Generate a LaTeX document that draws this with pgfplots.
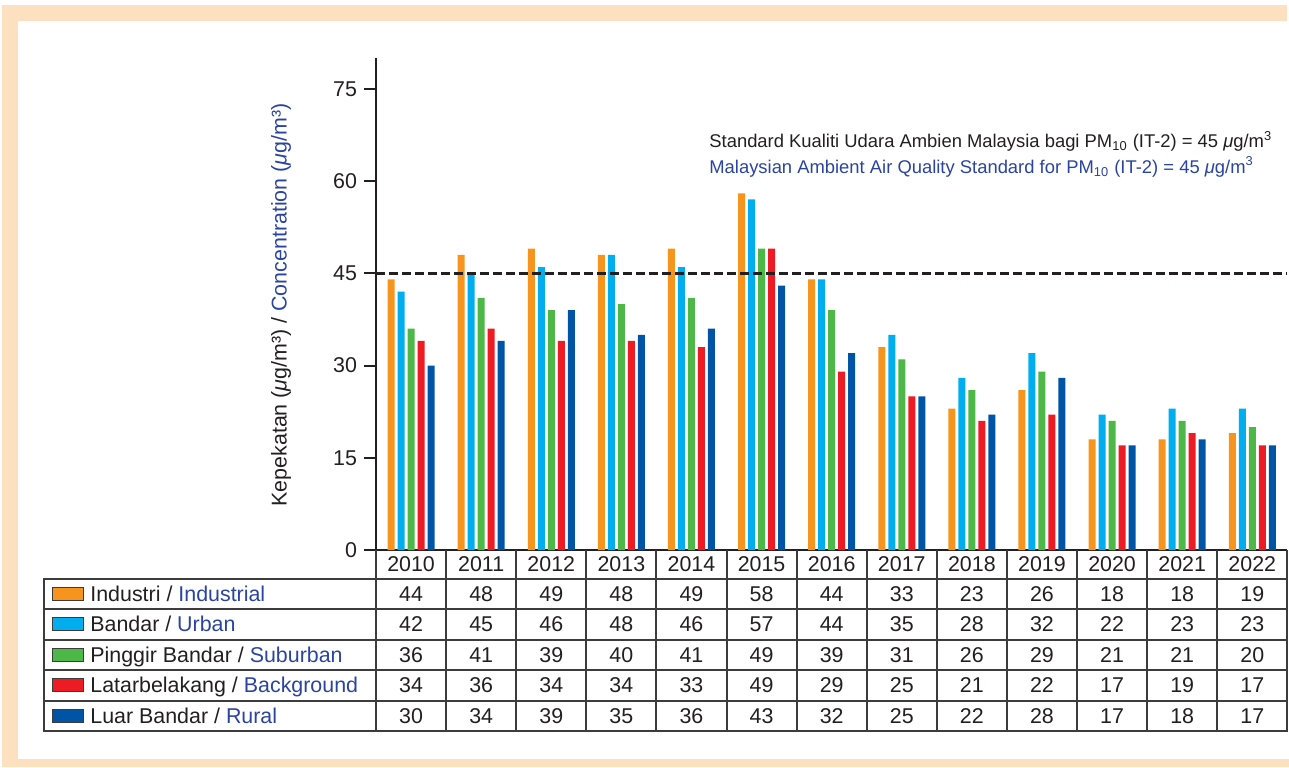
\documentclass[border=0pt]{standalone}
\usepackage{pgfplots}
\pgfplotsset{compat=1.18}
\usepackage{pgfplotstable}
\usepackage{fontspec}
\setmainfont{Liberation Sans}

\definecolor{cInd}{RGB}{247,148,29}
\definecolor{cUrb}{RGB}{0,174,239}
\definecolor{cSub}{RGB}{77,183,72}
\definecolor{cBkg}{RGB}{237,28,36}
\definecolor{cRur}{RGB}{0,84,166}
\definecolor{engblue}{RGB}{43,68,160}
\definecolor{peach}{RGB}{253,224,192}
\definecolor{grid}{RGB}{60,60,60}
\definecolor{ink}{RGB}{35,31,32}

\newcommand\fs{\fontsize{10.7}{12.8}\selectfont}
\newcommand\fa{\fontsize{9.2}{11}\selectfont}

% PM10 concentration by station type
\pgfplotstableread{
x year ind urb sub bkg rur
0 2010 44 42 36 34 30
1 2011 48 45 41 36 34
2 2012 49 46 39 34 39
3 2013 48 48 40 34 35
4 2014 49 46 41 33 36
5 2015 58 57 49 49 43
6 2016 44 44 39 29 32
7 2017 33 35 31 25 25
8 2018 23 28 26 21 22
9 2019 26 32 29 22 28
10 2020 18 22 21 17 17
11 2021 18 23 21 19 18
12 2022 19 23 20 17 17
}\data

\begin{document}
\begin{tikzpicture}
  % frame (pixel coordinates, y down)
  \begin{scope}[x=0.5pt,y=-0.5pt]
    \path (0,0) rectangle (1289,767);
    \fill[peach] (2,5) rectangle (1287,20.5);
    \fill[peach] (2,5) rectangle (18,767);
    \fill[peach] (2,759) rectangle (1289,767);
  \end{scope}

  \begin{axis}[
    at={(188pt,-275pt)}, anchor=south west,
    width=455.65pt, height=246pt, scale only axis,
    xmin=-0.5, xmax=12.5,
    ymin=0, ymax=80,
    axis x line=bottom, axis y line=left,
    axis line style={-, line width=1.2pt, ink},
    xtick=\empty,
    ytick={0,15,30,45,60,75},
    tick align=outside,
    major tick length=6pt,
    ytick style={line width=1pt, ink},
    /pgf/number format/assume math mode=true,
    yticklabel style={font=\fs, text=ink},
    clip=false,
  ]
    \addplot[ybar, bar width=3.5pt, bar shift=-10pt, fill=cInd, draw=none] table[x=x,y=ind]{\data};
    \addplot[ybar, bar width=3.5pt, bar shift=-5pt, fill=cUrb, draw=none] table[x=x,y=urb]{\data};
    \addplot[ybar, bar width=3.5pt, bar shift=0pt, fill=cSub, draw=none] table[x=x,y=sub]{\data};
    \addplot[ybar, bar width=3.5pt, bar shift=5pt, fill=cBkg, draw=none] table[x=x,y=bkg]{\data};
    \addplot[ybar, bar width=3.5pt, bar shift=10pt, fill=cRur, draw=none] table[x=x,y=rur]{\data};
    % IT-2 standard
    \addplot[ink, line width=1.4pt, dash pattern=on 4.5pt off 2pt] coordinates {(-0.5,45) (12.5,45)};
  \end{axis}

  \begin{scope}[x=0.5pt,y=-0.5pt]
    % y label
    \node[rotate=90, font=\fs, text=ink] at (281,305)
      {Kepekatan (\textit{μ}g/m³) / \textcolor{engblue}{Concentration (\textit{μ}g/m³)}};
    % standard note
    \node[anchor=base west, font=\fa, text=ink, inner sep=0pt] at (709,147.7)
      {Standard Kualiti Udara Ambien Malaysia bagi PM\textsubscript{10} (IT-2) = 45 \textit{μ}g/m\textsuperscript{3}};
    \node[anchor=base west, font=\fa, text=engblue, inner sep=0pt] at (709,173.3)
      {Malaysian Ambient Air Quality Standard for PM\textsubscript{10} (IT-2) = 45 \textit{μ}g/m\textsuperscript{3}};

    % table grid
    \draw[grid, line width=1pt] (376,578.5) -- (1287.3,578.5);
    \draw[grid, line width=1pt] (44,578.5) rectangle (1287.3,731);
    \foreach \yy in {609,639.5,670,700.5}
      \draw[grid, line width=1pt] (44,\yy) -- (1287.3,\yy);
    \foreach \k in {0,...,13}
      \draw[grid, line width=1pt] ({376+70.1*\k},550) -- ({376+70.1*\k},731);

    % years
    \foreach \c in {0,...,12} {
      \pgfplotstablegetelem{\c}{year}\of\data
      \node[anchor=base, font=\fs, text=ink, inner sep=0pt] at ({411.05+70.1*\c},571.7) {\pgfplotsretval};
    }
    % values
    \foreach \col/\yb in {ind/601.3, urb/631.8, sub/662.3, bkg/692.8, rur/723.3} {
      \foreach \c in {0,...,12} {
        \pgfplotstablegetelem{\c}{\col}\of\data
        \node[anchor=base, font=\fs, text=ink, inner sep=0pt] at ({411.05+70.1*\c},\yb) {\pgfplotsretval};
      }
    }
    % legend column
    \foreach \cc/\yc/\lab in {
        cInd/593.75/{Industri / \textcolor{engblue}{Industrial}},
        cUrb/624.25/{Bandar / \textcolor{engblue}{Urban}},
        cSub/654.75/{Pinggir Bandar / \textcolor{engblue}{Suburban}},
        cBkg/685.25/{Latarbelakang / \textcolor{engblue}{Background}},
        cRur/715.75/{Luar Bandar / \textcolor{engblue}{Rural}}} {
      \filldraw[fill=\cc, draw=grid, line width=0.5pt] (52,\yc-6.5) rectangle (83,\yc+6.5);
      \node[anchor=base west, font=\fs, text=ink, inner sep=0pt] at (90,\yc+7.5) {\lab};
    }
  \end{scope}
\end{tikzpicture}
\end{document}
